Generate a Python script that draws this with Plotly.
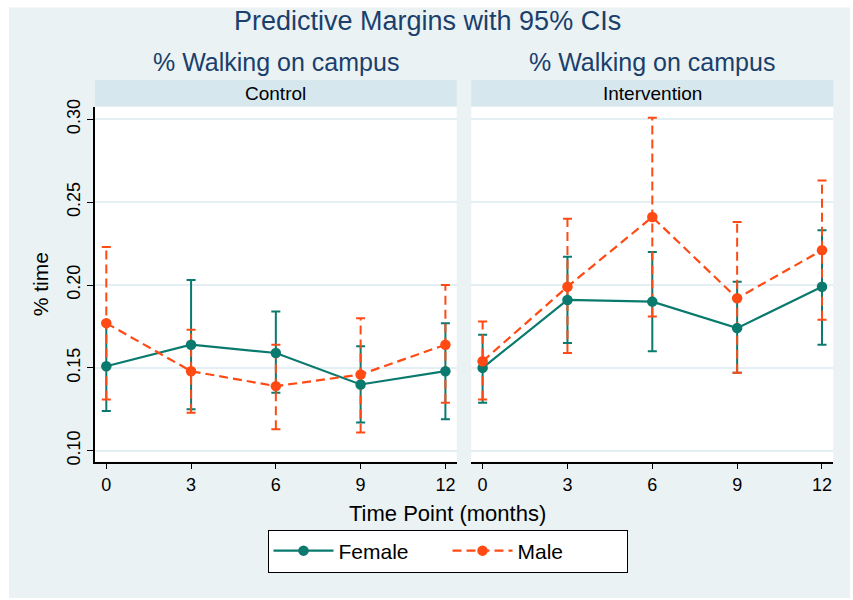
import plotly.graph_objects as go

# ---- data ----
time_points = [0, 3, 6, 9, 12]
x_ticks = [0, 3, 6, 9, 12]
y_ticks = [0.10, 0.15, 0.20, 0.25, 0.30]
panels = ["Control", "Intervention"]
series_names = ["Female", "Male"]

control_female = [0.151, 0.164, 0.159, 0.140, 0.148]
control_female_lo = [0.124, 0.125, 0.135, 0.117, 0.119]
control_female_hi = [0.178, 0.203, 0.184, 0.163, 0.177]
control_male = [0.177, 0.148, 0.139, 0.146, 0.164]
control_male_lo = [0.131, 0.123, 0.113, 0.111, 0.129]
control_male_hi = [0.223, 0.173, 0.164, 0.180, 0.200]

interv_female = [0.150, 0.191, 0.190, 0.174, 0.199]
interv_female_lo = [0.129, 0.165, 0.160, 0.147, 0.164]
interv_female_hi = [0.170, 0.217, 0.220, 0.202, 0.233]
interv_male = [0.154, 0.199, 0.241, 0.192, 0.221]
interv_male_lo = [0.131, 0.159, 0.181, 0.147, 0.179]
interv_male_hi = [0.178, 0.240, 0.301, 0.238, 0.263]

# ---- style ----
FONT = "Liberation Sans Narrow, Arial Narrow, Liberation Sans, Arial, sans-serif"
TEAL = "#0B7A6E"
ORANGE = "#FF4A14"
NAVY = "#1A3F6B"
BG = "#EAF2F4"
STRIP = "#D6E7ED"
GRID = "#E4EFF3"
W, H = 853, 600

def px_x(p):
    return p / W

def px_y(p):
    return 1 - p / H

dom_left = [px_x(95), px_x(456.7)]
dom_right = [px_x(471.3), px_x(833.3)]
dom_y = [px_y(461.7), px_y(106.7)]

fig = go.Figure()

data = {
    "Control": [(control_female, control_female_lo, control_female_hi),
                (control_male, control_male_lo, control_male_hi)],
    "Intervention": [(interv_female, interv_female_lo, interv_female_hi),
                     (interv_male, interv_male_lo, interv_male_hi)],
}
colors = [TEAL, ORANGE]
dashes = ["solid", "9px,5px"]
cap = 0.16

for pi, panel in enumerate(panels):
    xa = "x" if pi == 0 else "x2"
    ya = "y" if pi == 0 else "y2"
    for si, (vals, lo, hi) in enumerate(data[panel]):
        vx, vy, cx, cy = [], [], [], []
        for t, l, h in zip(time_points, lo, hi):
            vx += [t, t, None]
            vy += [l, h, None]
            cx += [t - cap, t + cap, None, t - cap, t + cap, None]
            cy += [l, l, None, h, h, None]
        fig.add_trace(go.Scatter(x=vx, y=vy, mode="lines", xaxis=xa, yaxis=ya,
                                 line=dict(color=colors[si], width=2, dash=dashes[si]),
                                 showlegend=False, hoverinfo="skip"))
        fig.add_trace(go.Scatter(x=cx, y=cy, mode="lines", xaxis=xa, yaxis=ya,
                                 line=dict(color=colors[si], width=2),
                                 showlegend=False, hoverinfo="skip"))
    for si, (vals, lo, hi) in enumerate(data[panel]):
        fig.add_trace(go.Scatter(x=time_points, y=vals, mode="lines+markers",
                                 xaxis=xa, yaxis=ya, name=series_names[si],
                                 line=dict(color=colors[si], width=2.2, dash=dashes[si]),
                                 marker=dict(color=colors[si], size=10.5),
                                 showlegend=(pi == 0)))

axis_common = dict(
    range=[-0.4, 12.4], tickvals=x_ticks, ticktext=[str(v) for v in x_ticks],
    showline=True, linecolor="black", linewidth=1.5, ticks="outside", ticklen=6,
    tickcolor="black", tickwidth=1, showgrid=False, zeroline=False,
    automargin=False,
    tickfont=dict(family=FONT, size=18, color="black"),
)
fig.update_layout(
    xaxis=dict(axis_common, domain=dom_left, anchor="y"),
    xaxis2=dict(axis_common, domain=dom_right, anchor="y2"),
    yaxis=dict(domain=dom_y, range=[0.0934, 0.3076], tickvals=y_ticks,
               ticktext=[f"{v:.2f}" for v in y_ticks], tickangle=-90,
               showline=True, linecolor="black", linewidth=1.5, ticks="outside",
               ticklen=6, tickcolor="black", showgrid=True, gridcolor=GRID,
               gridwidth=2, zeroline=False, anchor="x", automargin=False,
               tickfont=dict(family=FONT, size=18, color="black"),
               title=dict(text="% time", standoff=10,
                          font=dict(family=FONT, size=21, color="black"))),
    yaxis2=dict(domain=dom_y, range=[0.0934, 0.3076], tickvals=y_ticks,
                showticklabels=False, showline=False, ticks="", showgrid=True,
                gridcolor=GRID, gridwidth=2, zeroline=False, anchor="x2",
                automargin=False),
)

shapes = [
    dict(type="rect", xref="paper", yref="paper", x0=px_x(9), x1=px_x(850),
         y0=px_y(598), y1=px_y(7.5), fillcolor=BG, line=dict(width=0), layer="below"),
    dict(type="rect", xref="paper", yref="paper", x0=dom_left[0], x1=dom_left[1],
         y0=dom_y[1], y1=px_y(80), fillcolor=STRIP, line=dict(width=0), layer="below"),
    dict(type="rect", xref="paper", yref="paper", x0=dom_right[0], x1=dom_right[1],
         y0=dom_y[1], y1=px_y(80), fillcolor=STRIP, line=dict(width=0), layer="below"),
    dict(type="rect", xref="paper", yref="paper", x0=dom_left[0], x1=dom_left[1],
         y0=dom_y[0], y1=dom_y[1], fillcolor="white", line=dict(width=0), layer="below"),
    dict(type="rect", xref="paper", yref="paper", x0=dom_right[0], x1=dom_right[1],
         y0=dom_y[0], y1=dom_y[1], fillcolor="white", line=dict(width=0), layer="below"),
]

annotations = [
    dict(text="Predictive Margins with 95% CIs", x=px_x(427), y=px_y(21), xref="paper",
         yref="paper", showarrow=False, xanchor="center", yanchor="middle",
         font=dict(family=FONT, size=27, color=NAVY)),
    dict(text="% Walking on campus", x=sum(dom_left) / 2, y=px_y(62), xref="paper",
         yref="paper", showarrow=False, xanchor="center", yanchor="middle",
         font=dict(family=FONT, size=25, color=NAVY)),
    dict(text="% Walking on campus", x=sum(dom_right) / 2, y=px_y(62), xref="paper",
         yref="paper", showarrow=False, xanchor="center", yanchor="middle",
         font=dict(family=FONT, size=25, color=NAVY)),
    dict(text=panels[0], x=sum(dom_left) / 2, y=px_y(93), xref="paper",
         yref="paper", showarrow=False, xanchor="center", yanchor="middle",
         font=dict(family=FONT, size=19, color="black")),
    dict(text=panels[1], x=sum(dom_right) / 2, y=px_y(93), xref="paper",
         yref="paper", showarrow=False, xanchor="center", yanchor="middle",
         font=dict(family=FONT, size=19, color="black")),
    dict(text="Time Point (months)", x=px_x(447), y=px_y(513), xref="paper",
         yref="paper", showarrow=False, xanchor="center", yanchor="middle",
         font=dict(family=FONT, size=22, color="black")),
]

fig.update_layout(
    width=W, height=H, margin=dict(l=0, r=0, t=0, b=0, pad=0, autoexpand=False),
    paper_bgcolor="white", plot_bgcolor="rgba(0,0,0,0)",
    shapes=shapes, annotations=annotations,
    showlegend=True,
    legend=dict(orientation="h", x=px_x(447.5), xanchor="center", y=px_y(551),
                yanchor="middle", bgcolor="white", bordercolor="black",
                borderwidth=1, font=dict(family=FONT, size=21, color="black"),
                entrywidth=104, itemwidth=60),
)

fig.write_html("out.html", config={"displayModeBar": False},
               post_script="document.body.style.margin='0px';")
